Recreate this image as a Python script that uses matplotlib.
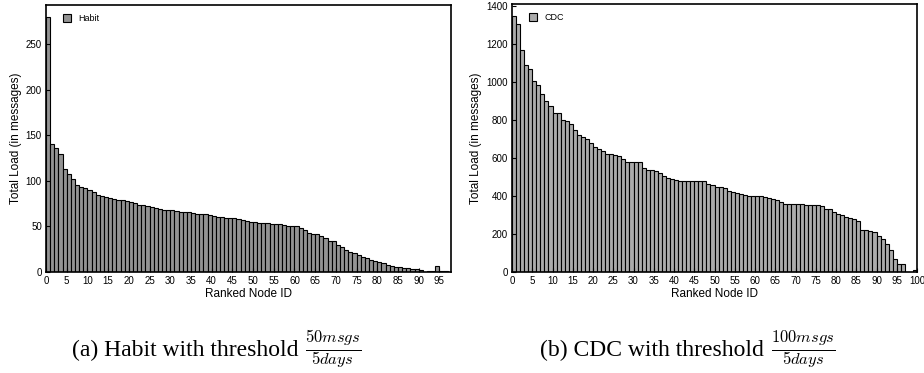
import numpy as np
import matplotlib
matplotlib.use('Agg')
import matplotlib.pyplot as plt
from matplotlib.patches import Patch

# Habit: total load per ranked node
habit_load = [
    280, 141, 136, 129, 113, 108, 102, 96, 93, 92,
    90, 88, 85, 83.5, 82, 81, 80, 79.5, 79, 78,
    77, 75.5, 74, 73, 72, 71, 70, 69, 68.5, 68,
    67.5, 67, 66, 65.5, 65.5, 65, 64, 63.5, 63.5, 63,
    61, 60, 60, 59.5, 59, 59, 58.5, 57, 55.5, 55,
    55, 54, 54, 53.5, 52.5, 52.5, 52.5, 52, 51, 51,
    50.5, 48, 46, 43, 42, 41.5, 39.5, 37.5, 34.5, 34,
    30, 27, 24, 21.5, 20.5, 18.5, 16.5, 15.5, 13.5, 12.5,
    10.5, 10, 8, 6.5, 6, 5.5, 4.5, 4, 3.5, 3,
    2.5, 0, 1, 1, 7, 1, 1, 0,
]

# CDC: total load per ranked node
cdc_load = [
    1350, 1305, 1170, 1090, 1070, 1005, 983, 938, 899, 876,
    837, 837, 802, 793, 781, 749, 723, 711, 702, 679,
    658, 649, 640, 623, 621, 617, 612, 595, 582, 579,
    579, 577, 547, 540, 535, 530, 524, 507, 494, 489,
    486, 482, 482, 481, 480, 480, 479, 478, 463, 456,
    450, 447, 440, 426, 423, 416, 412, 404, 403, 401,
    400, 398, 394, 390, 385, 378, 370, 357, 357, 356,
    356, 356, 355, 355, 355, 354, 348, 333, 330, 318,
    305, 302, 292, 284, 281, 268, 222, 220, 218, 212,
    192, 175, 150, 118, 68, 42, 40, 0, 0, 10,
]

x_ticks = list(range(0, 100, 5))
habit_yticks = [0, 50, 100, 150, 200, 250]
cdc_xticks = list(range(0, 101, 5))
cdc_yticks = [0, 200, 400, 600, 800, 1000, 1200, 1400]

plt.rcParams['font.family'] = ['Liberation Sans', 'DejaVu Sans']
plt.rcParams['mathtext.fontset'] = 'cm'

fig = plt.figure(figsize=(9.24, 3.73), dpi=100)
W, H = 924.0, 373.0


def make_axes(left, right, top, bottom):
    return fig.add_axes([left / W, 1 - bottom / H, (right - left) / W, (bottom - top) / H])


def style(ax, label, color, xticks, yticks, xlim, ylim):
    ax.set_xlim(*xlim)
    ax.set_ylim(*ylim)
    ax.set_xticks(xticks)
    ax.set_yticks(yticks)
    ax.tick_params(direction='in', length=3, width=0.8, labelsize=7, pad=3)
    for s in ax.spines.values():
        s.set_linewidth(1.2)
    ax.set_xlabel('Ranked Node ID', fontsize=8.5, labelpad=1)
    ax.set_ylabel('Total Load (in messages)', fontsize=8.5, labelpad=3)
    ax.legend(handles=[Patch(facecolor=color, edgecolor='black', linewidth=0.8, label=label)],
              loc='upper left', frameon=False, fontsize=6.5, handlelength=0.9,
              handleheight=0.9, handletextpad=0.8, borderaxespad=0.6,
              bbox_to_anchor=(0.02, 1.0))


def caption(ax, x, text, frac):
    t = fig.text(x / W, 1 - 350 / H, text, family='Liberation Serif',
                 fontsize=17, ha='left', va='center')
    ax.annotate(frac, xy=(1, 0.5), xycoords=t, xytext=(5, 0.5), textcoords='offset points',
                fontsize=17, ha='left', va='center', annotation_clip=False)


# (a) Habit
ax1 = make_axes(46, 451, 5, 272)
idx = np.arange(len(habit_load))
ax1.bar(idx, habit_load, width=1, align='edge', color='#939393',
        edgecolor='black', linewidth=0.8)
style(ax1, 'Habit', '#939393', x_ticks, habit_yticks, (0, 97.8), (0, 293))

# (b) CDC
ax2 = make_axes(512, 917, 4, 272)
idx = np.arange(len(cdc_load))
ax2.bar(idx, cdc_load, width=1, align='edge', color='#ababab',
        edgecolor='black', linewidth=0.8)
style(ax2, 'CDC', '#ababab', cdc_xticks, cdc_yticks, (0, 100), (0, 1412))

# captions
caption(ax1, 72, '(a) Habit with threshold', r'$\frac{50msgs}{5days}$')
caption(ax2, 540, '(b) CDC with threshold', r'$\frac{100msgs}{5days}$')

fig.savefig('out.png', dpi=100)
